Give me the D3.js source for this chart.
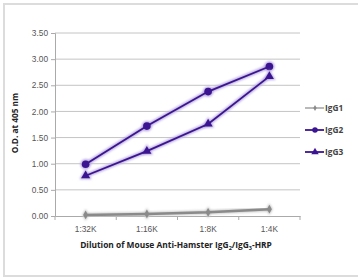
<!DOCTYPE html>
<html><head><meta charset="utf-8">
<script src="https://cdn.jsdelivr.net/npm/d3@7"></script>
<style>
html,body{margin:0;padding:0;background:#fff;}
svg{display:block;font-family:"Open Sans","Noto Sans",sans-serif;}
</style></head>
<body>
<svg id="c" width="358" height="278"></svg>
<script>
const categories = ["1:32K","1:16K","1:8K","1:4K"];
const igg1 = [0.02, 0.04, 0.07, 0.13];
const igg2 = [0.99, 1.72, 2.38, 2.86];
const igg3 = [0.77, 1.24, 1.76, 2.67];
const yTicks = [0, 0.5, 1.0, 1.5, 2.0, 2.5, 3.0, 3.5];
const seriesNames = ["IgG1","IgG2","IgG3"];

const svg = d3.select("#c");
// frame
svg.append("rect").attr("x",4).attr("y",4).attr("width",358).attr("height",272)
  .attr("fill","none").attr("stroke","#dcdcdc").attr("stroke-width",2);

const x = d3.scaleBand().domain(categories).range([55,300]);
const y = d3.scaleLinear().domain([0,3.5]).range([216,33]);

const defs = svg.append("defs");
const f = defs.append("filter").attr("id","glow").attr("x","-20%").attr("y","-20%").attr("width","140%").attr("height","140%");
f.append("feGaussianBlur").attr("in","SourceGraphic").attr("stdDeviation",1.2);

// gridlines
svg.append("g").selectAll("line").data(yTicks.filter(d=>d>0)).join("line")
  .attr("x1",55).attr("x2",300).attr("y1",d=>y(d)).attr("y2",d=>y(d))
  .attr("stroke","#c4c4c4").attr("stroke-width",1);

// y axis
const yAxis = svg.append("g").attr("transform","translate(55,0)")
  .call(d3.axisLeft(y).tickValues(yTicks).tickFormat(d3.format(".2f")).tickSize(4));
yAxis.select(".domain").attr("stroke","#aaa");
yAxis.selectAll(".tick line").attr("stroke","#aaa");
yAxis.selectAll("text").attr("fill","#555").attr("font-size",8.3).attr("x",-7);

// x axis
const xAxis = svg.append("g").attr("transform","translate(0,216)")
  .call(d3.axisBottom(x).tickSize(0).tickPadding(10));
xAxis.select(".domain").attr("stroke","#aaa");
xAxis.selectAll("text").attr("fill","#555").attr("font-size",8.3);
svg.append("g").selectAll("line").data(d3.range(categories.length+1)).join("line")
  .attr("x1",i=>55+i*x.step()).attr("x2",i=>55+i*x.step())
  .attr("y1",216).attr("y2",220).attr("stroke","#aaa");

// axis titles
svg.append("text").attr("transform","translate(18,123) rotate(-90)")
  .attr("text-anchor","middle").attr("font-size",8.3).attr("font-weight","bold").attr("fill","#222")
  .text("O.D. at 405 nm");
const xt = svg.append("text").attr("x",176).attr("y",248).attr("text-anchor","middle")
  .attr("font-size",8.4).attr("font-weight","bold").attr("fill","#222");
xt.append("tspan").text("Dilution of Mouse Anti-Hamster IgG");
xt.append("tspan").attr("font-size",5.5).attr("dy",1.5).text("2");
xt.append("tspan").attr("dy",-1.5).text("/IgG");
xt.append("tspan").attr("font-size",5.5).attr("dy",1.5).text("3");
xt.append("tspan").attr("dy",-1.5).text("-HRP");

const series = [
  {name:"IgG1", vals:igg1, color:"#8a8a8a", shape:d3.symbolDiamond, size:22, glow:"#c8c8c8"},
  {name:"IgG2", vals:igg2, color:"#3b1591", shape:d3.symbolCircle, size:46, glow:"#b9a8e0"},
  {name:"IgG3", vals:igg3, color:"#3b1591", shape:d3.symbolTriangle, size:36, glow:"#b9a8e0"}
];
const line = d3.line().x((d,i)=>x(categories[i])+x.bandwidth()/2).y(d=>y(d));

series.forEach(s=>{
  const g = svg.append("g");
  g.append("path").datum(s.vals).attr("d",line).attr("fill","none")
    .attr("stroke",s.glow).attr("stroke-width",4).attr("filter","url(#glow)");
  g.selectAll(".gm").data(s.vals).join("path").attr("class","gm")
    .attr("d",d3.symbol().type(s.shape).size(s.size*1.8))
    .attr("transform",(d,i)=>`translate(${x(categories[i])+x.bandwidth()/2},${y(d)})`)
    .attr("fill",s.glow).attr("filter","url(#glow)");
  g.append("path").datum(s.vals).attr("d",line).attr("fill","none")
    .attr("stroke",s.color).attr("stroke-width",s.name==="IgG1"?2.5:1.8);
  g.selectAll(".m").data(s.vals).join("path").attr("class","m")
    .attr("d",d3.symbol().type(s.shape).size(s.size))
    .attr("transform",(d,i)=>`translate(${x(categories[i])+x.bandwidth()/2},${y(d)})`)
    .attr("fill",s.color);
});

// legend
const lg = svg.append("g").selectAll("g").data(series).join("g")
  .attr("transform",(d,i)=>`translate(305,${108+i*22})`);
lg.append("line").attr("x1",0).attr("x2",19).attr("y1",0).attr("y2",0)
  .attr("stroke",d=>d.color).attr("stroke-width",d=>d.name==="IgG1"?1.2:1.8);
lg.append("path").attr("d",d=>d3.symbol().type(d.shape).size(d.name==="IgG1"?10:24)())
  .attr("transform","translate(10,0)").attr("fill",d=>d.color);
lg.append("text").attr("x",20).attr("y",3).attr("font-size",8.3).attr("font-weight","bold")
  .attr("fill","#444").text(d=>d.name);
</script>
</body></html>
